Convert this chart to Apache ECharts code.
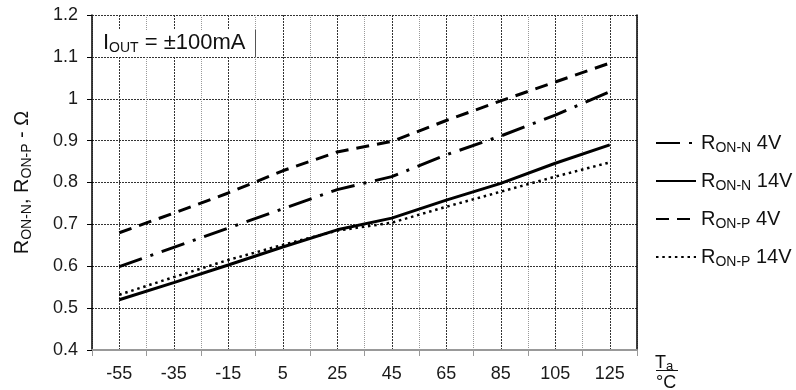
<!DOCTYPE html>
<html>
<head>
<meta charset="utf-8">
<script src="https://cdn.jsdelivr.net/npm/echarts@6/dist/echarts.min.js"></script>
<style>
  html, body { margin: 0; padding: 0; background: #fff; }
  #chart { width: 796px; height: 390px; }
</style>
</head>
<body>
<div id="chart"></div>
<script>
// ambient temperature, deg C
const temps = ['-55', '-35', '-15', '5', '25', '45', '65', '85', '105', '125'];

// on-resistance, ohm
const ronN4V = [0.599, 0.645, 0.691, 0.737, 0.783, 0.814, 0.866, 0.911, 0.961, 1.017];
const ronN14V = [0.52, 0.561, 0.603, 0.646, 0.687, 0.715, 0.758, 0.798, 0.846, 0.89];
const ronP4V = [0.68, 0.727, 0.775, 0.828, 0.873, 0.898, 0.948, 0.995, 1.04, 1.085];
const ronP14V = [0.532, 0.574, 0.615, 0.651, 0.685, 0.704, 0.742, 0.778, 0.814, 0.848];

const seriesNames = ['RON-N 4V', 'RON-N 14V', 'RON-P 4V', 'RON-P 14V'];

const FONT = '"Liberation Sans", Arial, sans-serif';
const chart = echarts.init(document.getElementById('chart'));

// "RON-N 4V" -> R + subscript ON-N + " 4V"
function subName(name) {
  const parts = name.split(' ');
  return '{m|R}{s|' + parts[0].slice(1) + '}{m| ' + parts[1] + '}';
}

const richText = {
  m: {fontSize: 20, lineHeight: 24, color: '#111', fontFamily: FONT},
  s: {fontSize: 14, lineHeight: 14, color: '#111', fontFamily: FONT, verticalAlign: 'bottom'},
};

const lineStyles = [
  {color: '#000', width: 3, type: [24, 9, 3, 9]},
  {color: '#000', width: 3, type: 'solid'},
  {color: '#000', width: 3, type: [13, 8]},
  {color: '#000', width: 2.5, type: [2.5, 3.8]},
];
const values = [ronN4V, ronN14V, ronP4V, ronP14V];

const option = {
  animation: false,
  textStyle: {fontFamily: FONT},
  grid: {left: 92, right: 159, top: 15, bottom: 40, containLabel: false},
  legend: {
    orient: 'vertical',
    left: 655,
    top: 133,
    padding: 0,
    itemWidth: 40,
    itemHeight: 14,
    itemGap: 16,
    itemStyle: {opacity: 0},
    formatter: (name) => subName(name),
    textStyle: {rich: richText},
    data: seriesNames,
  },
  xAxis: [
    {
      // grid / tick axis: boundaries every 20, category centres as minor lines
      type: 'value',
      position: 'bottom',
      min: -65,
      max: 135,
      interval: 20,
      axisLabel: {show: false},
      axisLine: {show: true, onZero: false, lineStyle: {color: '#999', width: 2}},
      axisTick: {show: true, inside: false, length: 6, lineStyle: {color: '#999', width: 1}},
      splitLine: {show: true, lineStyle: {color: '#999', width: 1, type: [1, 1]}},
      minorTick: {show: true, splitNumber: 2, length: 0, lineStyle: {width: 0}},
      minorSplitLine: {show: true, lineStyle: {color: '#333', width: 1, type: [2, 1]}},
    },
    {
      type: 'category',
      position: 'bottom',
      data: temps,
      boundaryGap: true,
      axisLine: {show: false, onZero: false},
      axisTick: {show: false},
      splitLine: {show: false},
      axisLabel: {color: '#1a1a1a', fontSize: 18, margin: 15, fontFamily: FONT},
    },
  ],
  yAxis: [
    {
      type: 'value',
      min: 0.4,
      max: 1.2,
      interval: 0.1,
      name: '{m|R}{s|ON-N}{m|, R}{s|ON-P}{m| - Ω}',
      nameLocation: 'middle',
      nameGap: 58,
      nameTextStyle: {rich: richText},
      axisLine: {show: true, onZero: false, lineStyle: {color: '#000', width: 1.5}},
      axisTick: {show: true, length: 5, lineStyle: {color: '#000'}},
      axisLabel: {color: '#1a1a1a', fontSize: 18, margin: 14},
      splitLine: {show: true, lineStyle: {color: '#333', width: 1, type: [2, 1]}},
    },
    {
      type: 'value',
      position: 'right',
      min: 0.4,
      max: 1.2,
      interval: 0.1,
      axisLine: {show: true, onZero: false, lineStyle: {color: '#000', width: 1.5}},
      axisTick: {show: false},
      axisLabel: {show: false},
      splitLine: {show: false},
    },
  ],
  series: seriesNames.map((name, i) => ({
    name,
    type: 'line',
    xAxisIndex: 1,
    yAxisIndex: 0,
    data: values[i],
    symbol: 'none',
    lineStyle: lineStyles[i],
    z: 3,
  })),
  graphic: [
    {type: 'rect', z: 10, shape: {x: 93, y: 30, width: 162, height: 26}, style: {fill: '#fff'}},
    {type: 'line', z: 11, shape: {x1: 255.5, y1: 30, x2: 255.5, y2: 57}, style: {stroke: '#555', lineWidth: 1}},
    {
      type: 'text', z: 12, x: 103, y: 43,
      style: {
        text: '{m|I}{s|OUT}{m| = ±100mA}',
        verticalAlign: 'middle',
        rich: {
          m: {fontSize: 22, lineHeight: 24, fill: '#111', fontFamily: FONT},
          s: {fontSize: 14, lineHeight: 14, fill: '#111', fontFamily: FONT, verticalAlign: 'bottom'},
        },
      },
    },
    {
      type: 'text', z: 12, x: 655, y: 363,
      style: {
        text: '{m|T}{s|a}',
        verticalAlign: 'middle',
        rich: {
          m: {fontSize: 18, lineHeight: 20, fill: '#111', fontFamily: FONT},
          s: {fontSize: 13, lineHeight: 13, fill: '#111', fontFamily: FONT, verticalAlign: 'bottom'},
        },
      },
    },
    {type: 'line', z: 12, shape: {x1: 656, y1: 370.5, x2: 678, y2: 370.5}, style: {stroke: '#111', lineWidth: 1}},
    {
      type: 'text', z: 12, x: 656, y: 383,
      style: {text: '°C', verticalAlign: 'middle', fontSize: 18, fill: '#111', fontFamily: FONT},
    },
  ],
};

chart.setOption(option);
</script>
</body>
</html>
